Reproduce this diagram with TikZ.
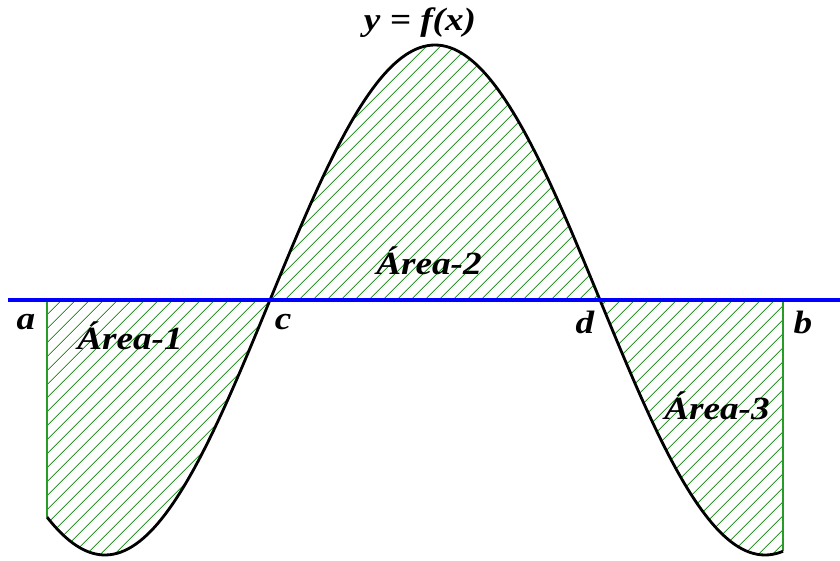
\documentclass[tikz,border=0pt]{standalone}
\usepackage{fontspec}
\setmainfont{Liberation Serif}
\newfontfamily\lblfont[FakeStretch=1.15]{Liberation Serif}
\usetikzlibrary{patterns.meta}
\definecolor{hatchgreen}{RGB}{40,155,40}
\definecolor{axisblue}{RGB}{0,0,255}
\tikzset{
  lbl/.style={font=\lblfont\fontsize{23}{26}\selectfont\bfseries\itshape},
  hatch/.style={pattern={Lines[angle=45,distance=7.4pt,line width=0.6pt]}, pattern color=hatchgreen}
}

\begin{document}
\begin{tikzpicture}[x=0.025cm,y=0.025cm]
\useasboundingbox (0,-260) rectangle (840,300);
% end points
\coordinate (a) at (47,0);
\coordinate (afoot) at (47,-217.3);
\coordinate (b) at (783,0);
\coordinate (bfoot) at (783,-251.3);
% hatched areas
\fill[hatch] (a) -- plot[domain=47:783,samples=200] (\x,{255*sin((\x-270)/330*180)}) -- (b) -- cycle;
\draw[hatchgreen, line width=0.8pt] (a) -- (afoot);
\draw[hatchgreen, line width=0.8pt] (b) -- (bfoot);
% curve
\draw[line width=2pt] plot[domain=47:783,samples=200] (\x,{255*sin((\x-270)/330*180)});
% axis
\coordinate (xl) at (8,0);
\coordinate (xr) at (840,0);
\draw[axisblue, line width=2.6pt] (xl) -- (xr);
% labels
\node[lbl] (la) at (26,-22) {a};
\node[lbl] (lc) at (283,-22) {c};
\node[lbl] (ld) at (585,-22) {d};
\node[lbl] (lb) at (803,-22) {b};
\node[lbl] (fx) at (420,277) {y = f(x)};
\node[lbl] (area1) at (130,-36) {Área-1};
\node[lbl] (area2) at (429,39) {Área-2};
\node[lbl] (area3) at (717,-106) {Área-3};
\end{tikzpicture}
\end{document}
